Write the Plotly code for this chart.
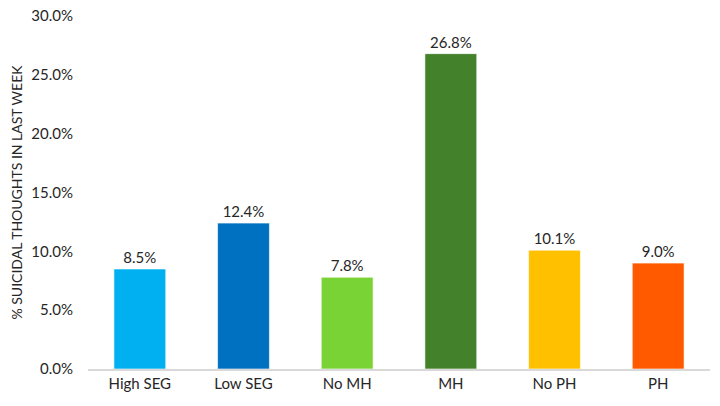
import plotly.graph_objects as go

categories = ["High SEG", "Low SEG", "No MH", "MH", "No PH", "PH"]
values = [8.5, 12.4, 7.8, 26.8, 10.1, 9.0]
colors = ["#00B0F0", "#0070C0", "#7AD335", "#43822A", "#FFC000", "#FF5A00"]
tick_vals = [0, 5, 10, 15, 20, 25, 30]
tick_text = [f"{v:.1f}%" for v in tick_vals]

font = "Lato, 'Open Sans', sans-serif"

fig = go.Figure(
    go.Bar(
        x=categories, y=values,
        marker=dict(color=colors, line=dict(color="rgba(255,255,255,0.6)", width=1)),
        width=0.5,
        text=[f"{v:.1f}%" for v in values], textposition="outside",
        textfont=dict(size=15, color="#262626", family=font),
        cliponaxis=False,
    )
)

fig.update_layout(
    width=720, height=406,
    margin=dict(l=80, r=18, t=8, b=45, autoexpand=False),
    plot_bgcolor="white", paper_bgcolor="white",
    showlegend=False,
    font=dict(family=font, size=15, color="#262626"),
)
fig.update_yaxes(
    range=[0, 30], tickvals=tick_vals, ticktext=tick_text,
    showgrid=False, zeroline=False, showline=False,
    ticks="", ticklabelstandoff=14, ticklabeloverflow="allow", automargin=False,
    title=dict(text="% SUICIDAL THOUGHTS IN LAST WEEK", font=dict(size=14), standoff=10),
)
fig.update_xaxes(
    showline=True, linecolor="#D9D9D9", linewidth=2,
    showgrid=False, ticks="", automargin=False,
)

fig.write_html("out.html")
